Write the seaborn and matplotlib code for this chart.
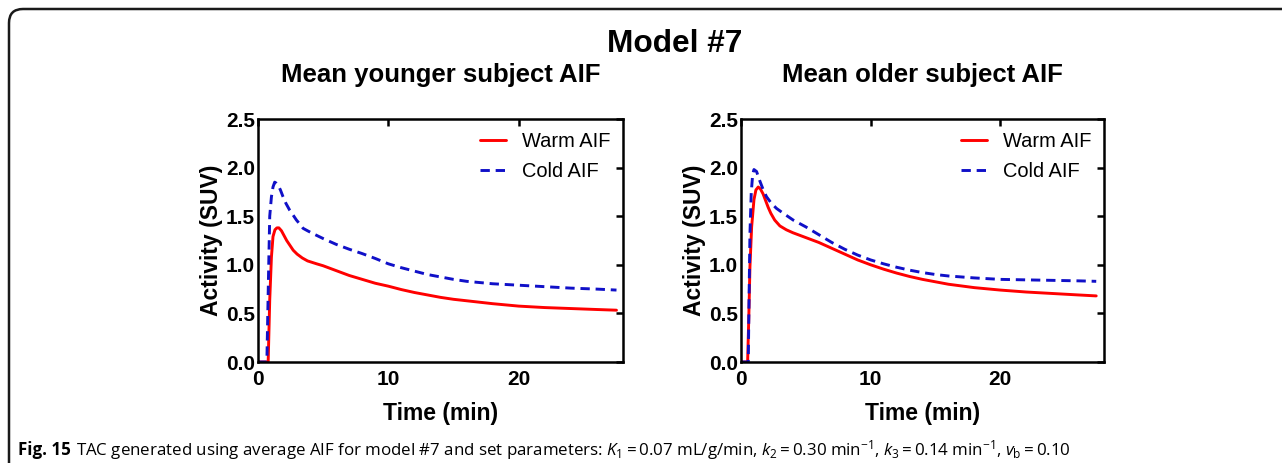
import numpy as np
import pandas as pd
import matplotlib
matplotlib.use("Agg")
import matplotlib.pyplot as plt
import seaborn as sns
from matplotlib.patches import FancyBboxPatch
from matplotlib.transforms import IdentityTransform

# ---------------- data ----------------
young_warm_t = [0, 0.78, 0.9, 1.03, 1.15, 1.3, 1.45, 1.6, 1.8, 2.0, 2.2, 2.45, 2.7, 3.0, 3.4, 3.8, 4.5, 5, 6, 7, 8, 9, 10,
                11, 12, 13, 14, 15, 16, 18, 20, 22, 24, 26, 27.5]
young_warm_y = [0, 0, 0.64, 1.08, 1.29, 1.36, 1.38, 1.38, 1.35, 1.30, 1.25, 1.20, 1.15, 1.11, 1.07, 1.04, 1.01, 0.99, 0.94,
                0.89, 0.85, 0.81, 0.78, 0.745, 0.715, 0.69, 0.665, 0.645, 0.63, 0.60, 0.575, 0.56, 0.55, 0.54, 0.533]
young_cold_t = [0, 0.68, 0.82, 0.9, 1.03, 1.15, 1.28, 1.4, 1.54, 1.72, 1.92, 2.15, 2.44, 2.7, 2.95, 3.2, 3.46, 3.8, 4.23,
                5, 6, 7, 8, 9, 10, 11, 12, 13, 14, 15, 16, 18, 20, 22, 24, 26, 27.5]
young_cold_y = [0, 0, 0.98, 1.5, 1.70, 1.80, 1.85, 1.84, 1.82, 1.77, 1.70, 1.63, 1.56, 1.51, 1.46, 1.42, 1.375, 1.35, 1.32,
                1.27, 1.21, 1.16, 1.115, 1.065, 1.01, 0.97, 0.935, 0.90, 0.875, 0.85, 0.83, 0.805, 0.79, 0.775, 0.76, 0.75, 0.74]

old_warm_t = [0, 0.51, 0.6, 0.69, 0.82, 1.0, 1.15, 1.33, 1.5, 1.7, 1.9, 2.1, 2.3, 2.6, 3.0, 3.5, 4.0, 5, 6, 7, 8, 9, 10,
              11, 12, 13, 14, 15, 16, 18, 20, 22, 24, 26, 27.4]
old_warm_y = [0, 0, 0.45, 0.98, 1.39, 1.67, 1.77, 1.80, 1.78, 1.73, 1.66, 1.59, 1.53, 1.46, 1.40, 1.36, 1.33, 1.28, 1.23,
              1.17, 1.11, 1.05, 1.00, 0.955, 0.915, 0.88, 0.85, 0.825, 0.80, 0.765, 0.74, 0.72, 0.705, 0.69, 0.68]
old_cold_t = [0, 0.56, 0.62, 0.69, 0.79, 0.9, 1.0, 1.2, 1.46, 1.72, 1.97, 2.36, 2.74, 3.26, 4.03, 5, 6, 7, 8, 9, 10,
              11, 12, 13, 14, 15, 16, 18, 20, 22, 24, 26, 27.4]
old_cold_y = [0, 0, 0.64, 1.32, 1.74, 1.93, 1.98, 1.96, 1.86, 1.77, 1.70, 1.63, 1.58, 1.53, 1.46, 1.39, 1.31, 1.23, 1.16,
              1.10, 1.05, 1.01, 0.975, 0.945, 0.92, 0.90, 0.885, 0.865, 0.85, 0.845, 0.84, 0.835, 0.83]

series_names = ["Warm AIF", "Cold AIF"]
panel_titles = ["Mean younger subject AIF", "Mean older subject AIF"]
suptitle = "Model #7"
xlabel = "Time (min)"
ylabel = "Activity (SUV)"
x_ticks = [0, 10, 20]
y_ticks = [0.0, 0.5, 1.0, 1.5, 2.0, 2.5]
caption_bold = "Fig. 15"
caption_rest = (r"TAC generated using average AIF for model #7 and set parameters: "
                r"$K_1 = 0.07$ mL/g/min, $k_2 = 0.30$ min$^{-1}$, $k_3 = 0.14$ min$^{-1}$, $v_\mathrm{b} = 0.10$")


def make_df(wt, wy, ct, cy):
    return pd.concat([
        pd.DataFrame({"t": wt, "v": wy, "s": series_names[0]}),
        pd.DataFrame({"t": ct, "v": cy, "s": series_names[1]}),
    ], ignore_index=True)


dfs = [make_df(young_warm_t, young_warm_y, young_cold_t, young_cold_y),
       make_df(old_warm_t, old_warm_y, old_cold_t, old_cold_y)]

# ---------------- style ----------------
sns.set_style("white")
plt.rcParams["font.family"] = ["Liberation Sans", "DejaVu Sans"]
plt.rcParams["text.color"] = "black"
plt.rcParams["axes.labelcolor"] = "black"
plt.rcParams["xtick.color"] = "black"
plt.rcParams["ytick.color"] = "black"
plt.rcParams["mathtext.fontset"] = "custom"
plt.rcParams["mathtext.rm"] = "Open Sans"
plt.rcParams["mathtext.it"] = "Open Sans:italic"
plt.rcParams["mathtext.bf"] = "Open Sans:bold"

W, H = 1282, 463
fig = plt.figure(figsize=(W / 100, H / 100), dpi=100)

# border with rounded top-left corner
border = FancyBboxPatch((9, -40), 1400, 463 - 9 + 40, boxstyle="round,pad=0,rounding_size=14",
                        transform=IdentityTransform(), facecolor="none", edgecolor="#1a1a1a",
                        linewidth=1.8, clip_on=False)
fig.patches.append(border)

palette = {series_names[0]: "#ff0000", series_names[1]: "#1010c8"}
dashes = {series_names[0]: "", series_names[1]: (3.2, 2.0)}

axes_px = [(258, 119, 623, 362), (741, 119, 1104, 362)]
for i, (x0, y0, x1, y1) in enumerate(axes_px):
    ax = fig.add_axes([x0 / W, 1 - y1 / H, (x1 - x0) / W, (y1 - y0) / H])
    sns.lineplot(data=dfs[i], x="t", y="v", hue="s", style="s", palette=palette, dashes=dashes,
                 linewidth=2.1, ax=ax, estimator=None, sort=False)
    ax.set_xlim(0, 28)
    ax.set_ylim(0, 2.5)
    ax.set_xticks(x_ticks)
    ax.set_yticks(y_ticks)
    ax.set_yticklabels([f"{v:.1f}" for v in y_ticks])
    for sp in ax.spines.values():
        sp.set_visible(True)
        sp.set_linewidth(1.8)
        sp.set_color("black")
    ax.tick_params(direction="in", length=5, width=1.8, top=True, right=True,
                   labelsize=15, colors="black")
    ax.tick_params(axis="x", pad=6)
    ax.tick_params(axis="y", pad=2)
    for lab in ax.get_xticklabels() + ax.get_yticklabels():
        lab.set_fontweight("bold")
    ax.set_xlabel(xlabel, fontsize=16.5, fontweight="bold", labelpad=9, color="black")
    ax.set_ylabel(ylabel, fontsize=16.5, fontweight="bold", labelpad=2, color="black")
    ax.set_title(panel_titles[i], fontsize=18.5, fontweight="bold", pad=27, color="black")
    leg = ax.legend(loc="upper right", frameon=False, fontsize=14.4, handlelength=1.3,
                    handletextpad=0.8, labelspacing=0.55, borderaxespad=0.25, title=None)
    for txt in leg.get_texts():
        txt.set_color("black")

fig.text(675 / W, 1 - 52 / H, suptitle, ha="center", va="baseline", fontsize=22.8,
         fontweight="bold", color="black")
t1 = fig.text(18 / W, 1 - 455 / H, caption_bold, ha="left", va="baseline", fontsize=12.2,
              fontweight="bold", family=["Open Sans", "DejaVu Sans"], color="black")
fig.canvas.draw()
bb = t1.get_window_extent()
fig.text((bb.x1 + 5) / W, 1 - 455 / H, caption_rest, ha="left", va="baseline", fontsize=12.2,
         family=["Open Sans", "DejaVu Sans"], color="black")

fig.savefig("out.png", dpi=100)
